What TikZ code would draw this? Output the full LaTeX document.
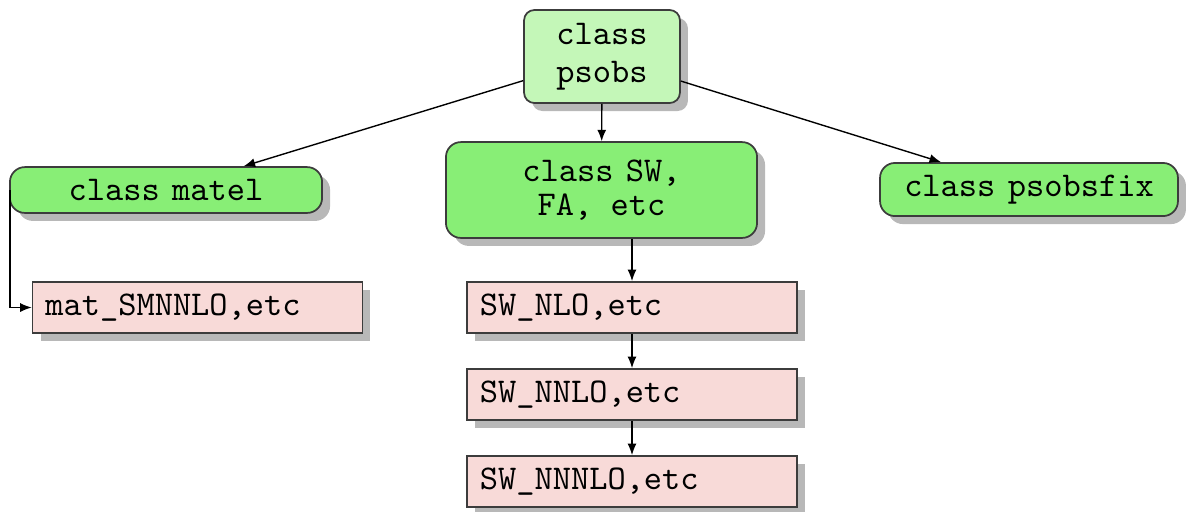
\documentclass[tikz,border=0pt]{standalone}
\usetikzlibrary{shadows,arrows.meta}
\definecolor{lightgr}{RGB}{196,247,184}
\definecolor{midgr}{RGB}{136,238,118}
\definecolor{pinkbox}{RGB}{248,218,216}
\definecolor{bordc}{RGB}{60,60,60}
\newcommand{\csp}{\hspace{0.36em}}
\tikzset{
  base/.style={draw=bordc, line width=0.5pt, font=\ttfamily, inner sep=0pt,
    drop shadow={shadow xshift=2.3pt, shadow yshift=-2.3pt, fill=black!35, opacity=0.8}},
  topbox/.style={base, fill=lightgr, rounded corners=3pt, align=center,
    minimum width=44.9pt, minimum height=26.8pt},
  classbox/.style={base, fill=midgr, rounded corners=4.3pt, align=center},
  implbox/.style={base, fill=pinkbox, text width=87.6pt, inner xsep=3.7pt, align=left,
    minimum height=14.7pt},
  conn/.style={line width=0.4pt, -{Latex[length=3.3pt,width=2.6pt]}}
}
\begin{document}
\begin{tikzpicture}[x=0.288pt, y=-0.288pt]
\useasboundingbox (0,0) rectangle (1188,511);
\node[topbox] (psobs) at (602,56.5) {class\\[-1pt]psobs};
\node[classbox, minimum width=89.9pt, minimum height=13.2pt] (matel) at (166,190) {class\csp matel};
\node[classbox, minimum width=89.6pt, minimum height=27.6pt] (sw) at (601.5,190) {class\csp SW,\\[-2pt]FA, etc};
\node[classbox, minimum width=85.8pt, minimum height=15.3pt] (fix) at (1029,189.5) {class\csp psobsfix};
\node[implbox] (mat) at (197.5,307.5) {mat\_SMNNLO,etc};
\node[implbox] (nlo) at (632,307.5) {SW\_NLO,etc};
\node[implbox] (nnlo) at (632,394.5) {SW\_NNLO,etc};
\node[implbox] (nnnlo) at (632,481.5) {SW\_NNNLO,etc};
\draw[conn] (psobs) -- (matel);
\draw[conn] (psobs) -- (fix);
\draw[conn] (psobs) -- (sw);
\draw[conn] (nlo.north |- sw.south) -- (nlo.north);
\draw[conn] (nlo) -- (nnlo);
\draw[conn] (nnlo) -- (nnnlo);
\draw[conn] ([xshift=0.3pt]matel.west) |- (mat.west);
\end{tikzpicture}
\end{document}
